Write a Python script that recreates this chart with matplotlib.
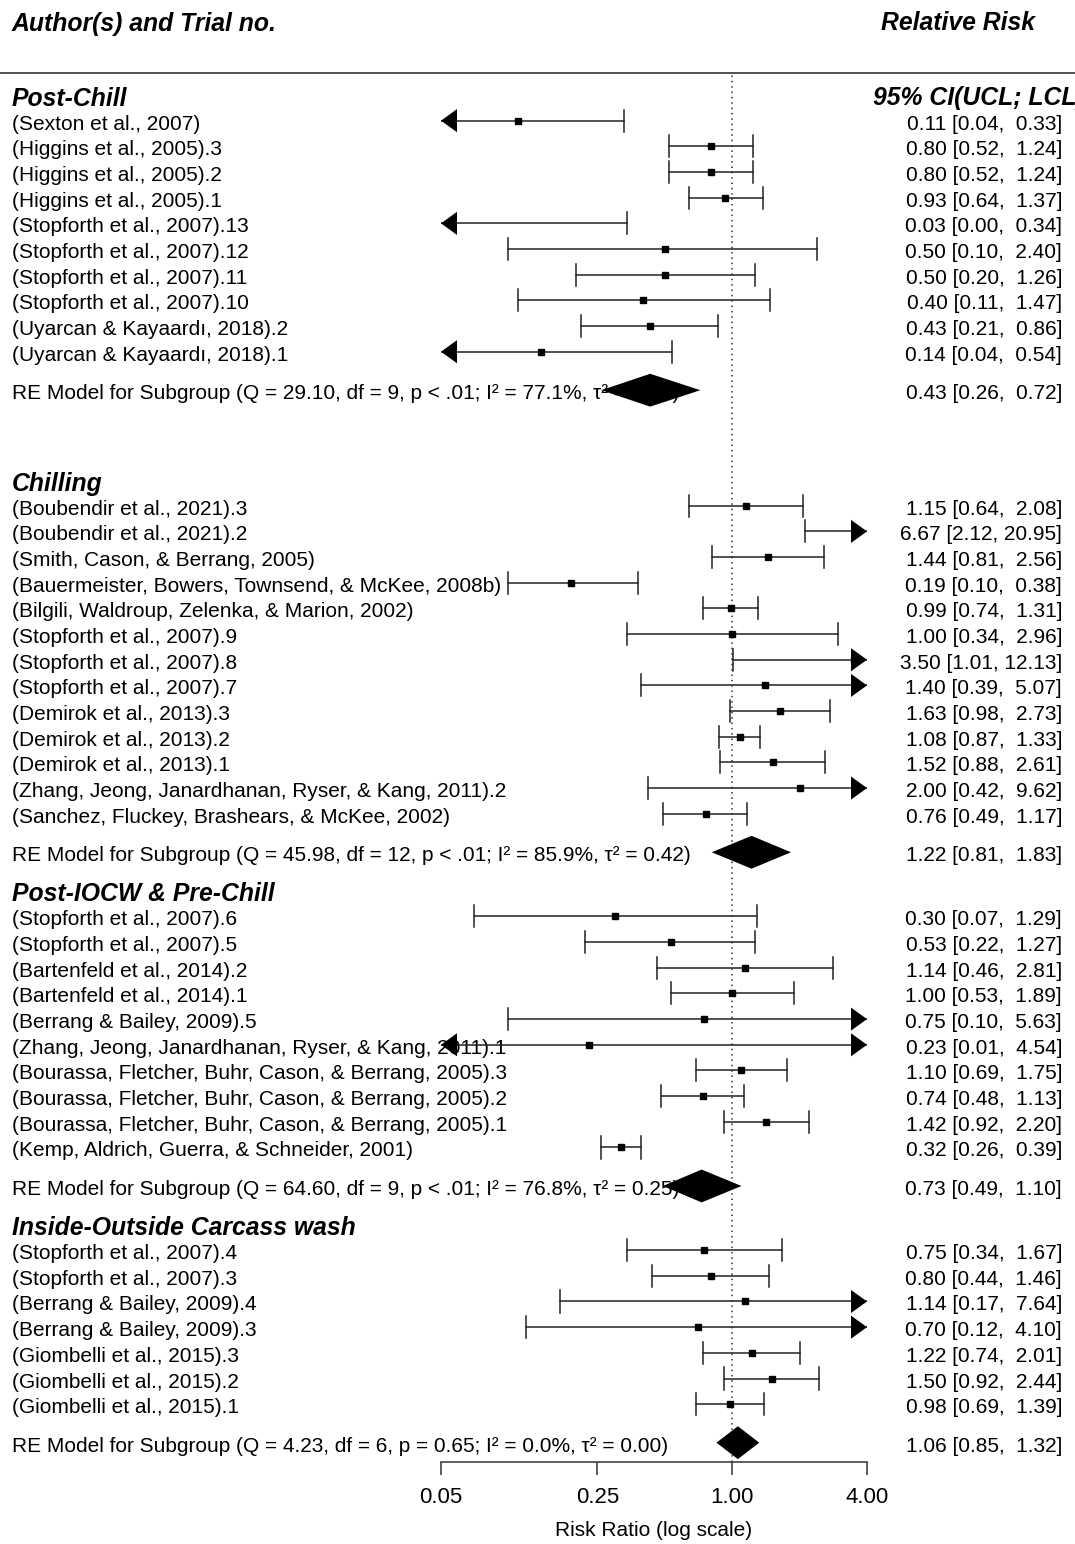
#!/usr/bin/env python3

"""Forest plot of relative risk per processing stage"""

import matplotlib
matplotlib.use('Agg')
import matplotlib.pyplot as plt
import matplotlib.transforms as mtransforms
from matplotlib.lines import Line2D
import numpy as np

plt.rcParams['font.family'] = ['Liberation Sans', 'DejaVu Sans']

# --- data -------------------------------------------------------------------
GROUPS = ['Post-Chill', 'Chilling', 'Post-IOCW & Pre-Chill',
          'Inside-Outside Carcass wash']

POST_CHILL_STUDIES = ['(Sexton et al., 2007)',
                      '(Higgins et al., 2005).3',
                      '(Higgins et al., 2005).2',
                      '(Higgins et al., 2005).1',
                      '(Stopforth et al., 2007).13',
                      '(Stopforth et al., 2007).12',
                      '(Stopforth et al., 2007).11',
                      '(Stopforth et al., 2007).10',
                      '(Uyarcan & Kayaardı, 2018).2',
                      '(Uyarcan & Kayaardı, 2018).1']
POST_CHILL_RR = [0.11, 0.80, 0.80, 0.93, 0.03, 0.50, 0.50, 0.40, 0.43, 0.14]
POST_CHILL_LO = [0.04, 0.52, 0.52, 0.64, 0.00, 0.10, 0.20, 0.11, 0.21, 0.04]
POST_CHILL_HI = [0.33, 1.24, 1.24, 1.37, 0.34, 2.40, 1.26, 1.47, 0.86, 0.54]

CHILLING_STUDIES = ['(Boubendir et al., 2021).3',
                    '(Boubendir et al., 2021).2',
                    '(Smith, Cason, & Berrang, 2005)',
                    '(Bauermeister, Bowers, Townsend, & McKee, 2008b)',
                    '(Bilgili, Waldroup, Zelenka, & Marion, 2002)',
                    '(Stopforth et al., 2007).9',
                    '(Stopforth et al., 2007).8',
                    '(Stopforth et al., 2007).7',
                    '(Demirok et al., 2013).3',
                    '(Demirok et al., 2013).2',
                    '(Demirok et al., 2013).1',
                    '(Zhang, Jeong, Janardhanan, Ryser, & Kang, 2011).2',
                    '(Sanchez, Fluckey, Brashears, & McKee, 2002)']
CHILLING_RR = [1.15, 6.67, 1.44, 0.19, 0.99, 1.00, 3.50, 1.40, 1.63, 1.08, 1.52, 2.00, 0.76]
CHILLING_LO = [0.64, 2.12, 0.81, 0.10, 0.74, 0.34, 1.01, 0.39, 0.98, 0.87, 0.88, 0.42, 0.49]
CHILLING_HI = [2.08, 20.95, 2.56, 0.38, 1.31, 2.96, 12.13, 5.07, 2.73, 1.33, 2.61, 9.62, 1.17]

IOCW_STUDIES = ['(Stopforth et al., 2007).6',
                '(Stopforth et al., 2007).5',
                '(Bartenfeld et al., 2014).2',
                '(Bartenfeld et al., 2014).1',
                '(Berrang & Bailey, 2009).5',
                '(Zhang, Jeong, Janardhanan, Ryser, & Kang, 2011).1',
                '(Bourassa, Fletcher, Buhr, Cason, & Berrang, 2005).3',
                '(Bourassa, Fletcher, Buhr, Cason, & Berrang, 2005).2',
                '(Bourassa, Fletcher, Buhr, Cason, & Berrang, 2005).1',
                '(Kemp, Aldrich, Guerra, & Schneider, 2001)']
IOCW_RR = [0.30, 0.53, 1.14, 1.00, 0.75, 0.23, 1.10, 0.74, 1.42, 0.32]
IOCW_LO = [0.07, 0.22, 0.46, 0.53, 0.10, 0.01, 0.69, 0.48, 0.92, 0.26]
IOCW_HI = [1.29, 1.27, 2.81, 1.89, 5.63, 4.54, 1.75, 1.13, 2.20, 0.39]

WASH_STUDIES = ['(Stopforth et al., 2007).4',
                '(Stopforth et al., 2007).3',
                '(Berrang & Bailey, 2009).4',
                '(Berrang & Bailey, 2009).3',
                '(Giombelli et al., 2015).3',
                '(Giombelli et al., 2015).2',
                '(Giombelli et al., 2015).1']
WASH_RR = [0.75, 0.80, 1.14, 0.70, 1.22, 1.50, 0.98]
WASH_LO = [0.34, 0.44, 0.17, 0.12, 0.74, 0.92, 0.69]
WASH_HI = [1.67, 1.46, 7.64, 4.10, 2.01, 2.44, 1.39]

# subgroup random-effects summaries
RE_RR = [0.43, 1.22, 0.73, 1.06]
RE_LO = [0.26, 0.81, 0.49, 0.85]
RE_HI = [0.72, 1.83, 1.10, 1.32]
RE_Q = [29.10, 45.98, 64.60, 4.23]
RE_DF = [9, 12, 9, 6]
RE_P = ['p < .01', 'p < .01', 'p < .01', 'p = 0.65']
RE_I2 = [77.1, 85.9, 76.8, 0.0]
RE_TAU2 = [0.48, 0.42, 0.25, 0.00]

XTICKS = [0.05, 0.25, 1.00, 4.00]

# --- layout -----------------------------------------------------------------
W, H = 1075, 1544
X_LO, X_HI = 0.05, 4.00
AX_L, AX_R = 441, 867          # pixel columns of the plotting region
AX_T, AX_B = 73, 1462          # pixel rows (top rule, x axis)
ROW_PX = 25.67                 # pixel height of one row
Y0_PX = 95                     # pixel row of the first header
EXTRA_GAP = [2.0, 0.0, 0.0, 0.0]
TXT_DY = 3.5 / ROW_PX          # text sits a bit lower than the marks

FS = 15
FS_HEAD = 17.8
PX_PER_LN = (AX_R - AX_L) / np.log(X_HI / X_LO)


def px2row(p):
    return (p - Y0_PX) / ROW_PX


def shift(x, px):
    """multiply x so it moves px pixels on the log axis"""
    return x * np.exp(px / PX_PER_LN)


def main():
    studies = [POST_CHILL_STUDIES, CHILLING_STUDIES, IOCW_STUDIES, WASH_STUDIES]
    rrs = [POST_CHILL_RR, CHILLING_RR, IOCW_RR, WASH_RR]
    los = [POST_CHILL_LO, CHILLING_LO, IOCW_LO, WASH_LO]
    his = [POST_CHILL_HI, CHILLING_HI, IOCW_HI, WASH_HI]

    fig = plt.figure(figsize=(W / 100, H / 100), dpi=100)
    ax = fig.add_axes([AX_L / W, 1 - AX_B / H, (AX_R - AX_L) / W, (AX_B - AX_T) / H])
    ax.set_xscale('log')
    ax.set_xlim(X_LO, X_HI)
    ax.set_ylim(px2row(AX_B), px2row(AX_T))

    lbl = mtransforms.blended_transform_factory(fig.transFigure, ax.transData)
    x_left = 12 / W
    x_right = 1062 / W

    def txt(x, y, s, **kw):
        kw.setdefault('fontsize', FS)
        ax.text(x, y + TXT_DY, s, transform=lbl, va='center', clip_on=False, **kw)

    # header
    y_title = px2row(20)
    txt(x_left, y_title, 'Author(s) and Trial no.', fontsize=FS_HEAD,
        fontweight='bold', fontstyle='italic', ha='left')
    txt(1035 / W, y_title, 'Relative Risk', fontsize=FS_HEAD,
        fontweight='bold', fontstyle='italic', ha='right')
    fig.add_artist(Line2D([0, 1], [1 - AX_T / H, 1 - AX_T / H], color='#333333', lw=1.2))
    txt(873 / W, 0, '95% CI(UCL; LCL)', fontsize=FS_HEAD,
        fontweight='bold', fontstyle='italic', ha='left')

    # reference line at RR = 1
    ax.axvline(1.0, color='#333333', lw=1.1, ls=(0, (1, 2.5)), zorder=1)

    cap = 0.43
    ah_len, ah_half = 16, 0.45
    dia_half = 0.64

    y = 0.0
    for g in range(len(GROUPS)):
        txt(x_left, y, GROUPS[g], fontsize=FS_HEAD, fontweight='bold',
            fontstyle='italic', ha='left')
        for i in range(len(studies[g])):
            y += 1
            rr, lo, hi = rrs[g][i], los[g][i], his[g][i]
            txt(x_left, y, studies[g][i], ha='left', zorder=2)
            txt(x_right, y, f'{rr:.2f} [{lo:.2f}, {hi:>5.2f}]', ha='right')
            lo_c = max(lo, X_LO)
            hi_c = min(hi, X_HI)
            ax.plot([lo_c, hi_c], [y, y], color='#222222', lw=1.1, zorder=3)
            if lo < X_LO:
                ax.fill([X_LO, shift(X_LO, ah_len), shift(X_LO, ah_len)],
                        [y, y - ah_half, y + ah_half], color='black', lw=0, zorder=4)
            else:
                ax.plot([lo, lo], [y - cap, y + cap], color='#222222', lw=1.1, zorder=3)
            if hi > X_HI:
                ax.fill([X_HI, shift(X_HI, -ah_len), shift(X_HI, -ah_len)],
                        [y, y - ah_half, y + ah_half], color='black', lw=0, zorder=4)
            else:
                ax.plot([hi, hi], [y - cap, y + cap], color='#222222', lw=1.1, zorder=3)
            if X_LO < rr < X_HI:
                ax.plot([rr], [y], marker='s', ms=4.6, color='black', zorder=5)

        # subgroup summary
        y += 1.5
        txt(x_left, y,
            f'RE Model for Subgroup (Q = {RE_Q[g]:.2f}, df = {RE_DF[g]}, {RE_P[g]}; '
            f'I² = {RE_I2[g]:.1f}%, τ² = {RE_TAU2[g]:.2f})', ha='left', zorder=2)
        txt(x_right, y, f'{RE_RR[g]:.2f} [{RE_LO[g]:.2f}, {RE_HI[g]:>5.2f}]', ha='right')
        ax.fill([RE_LO[g], RE_RR[g], RE_HI[g], RE_RR[g]],
                [y, y - dia_half, y, y + dia_half], color='black', lw=0, zorder=6,
                clip_on=False)
        y += 1.5 + EXTRA_GAP[g]

    # axes stuff
    for side in ['top', 'right', 'left']:
        ax.spines[side].set_visible(False)
    ax.spines['bottom'].set_color('#333333')
    ax.spines['bottom'].set_linewidth(1.1)
    ax.set_yticks([])
    ax.set_xticks(XTICKS)
    ax.set_xticklabels([f'{t:.2f}' for t in XTICKS])
    ax.xaxis.set_minor_locator(matplotlib.ticker.NullLocator())
    ax.tick_params(axis='x', direction='out', length=9, width=1.1, color='#333333',
                   labelsize=16, pad=9)
    ax.set_xlabel('Risk Ratio (log scale)', fontsize=FS, labelpad=9)
    ax.patch.set_visible(False)

    fig.savefig('out.png', dpi=100)


if __name__ == '__main__':
    main()
